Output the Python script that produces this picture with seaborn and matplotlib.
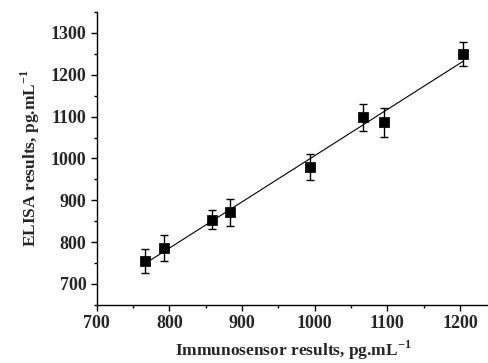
import matplotlib
matplotlib.use("Agg")
import matplotlib.pyplot as plt
from matplotlib.ticker import MultipleLocator
import numpy as np
import pandas as pd
import seaborn as sns

# values
immunosensor = [767, 793, 859, 883, 994, 1067, 1095, 1204]
elisa = [755, 786, 854, 871, 980, 1098, 1086, 1250]
elisa_err = [29, 32, 23, 33, 31, 33, 34, 29]

df = pd.DataFrame({"immuno": immunosensor, "elisa": elisa, "err": elisa_err})

sns.set_style("ticks")
plt.rcParams["font.family"] = ["Liberation Serif", "DejaVu Serif"]
plt.rcParams["font.weight"] = "bold"
plt.rcParams["mathtext.fontset"] = "custom"
plt.rcParams["mathtext.rm"] = "Liberation Serif:bold"
plt.rcParams["mathtext.bf"] = "Liberation Serif:bold"

fig = plt.figure(figsize=(4.89, 3.63), dpi=100)
ax = fig.add_axes([0.198, 0.160, 0.802, 0.807])

ax.errorbar(df["immuno"], df["elisa"], yerr=df["err"], fmt="none",
            ecolor="black", elinewidth=1.0, capsize=3, capthick=1.0, zorder=2)
sns.regplot(data=df, x="immuno", y="elisa", scatter=False, ci=None, ax=ax,
            line_kws={"color": "black", "lw": 0.8})
sns.scatterplot(data=df, x="immuno", y="elisa", marker="s", s=45,
                color="black", edgecolor="black", ax=ax, zorder=3)

ax.set_xlim(700, 1240)
ax.set_ylim(650, 1350)
ax.xaxis.set_major_locator(MultipleLocator(100))
ax.xaxis.set_minor_locator(MultipleLocator(50))
ax.yaxis.set_major_locator(MultipleLocator(100))
ax.yaxis.set_minor_locator(MultipleLocator(50))
ax.set_yticks(np.arange(700, 1301, 100))
ax.tick_params(which="major", length=4, width=1, labelsize=13, color="black")
ax.tick_params(which="minor", length=2.5, width=1, color="black")
for lab in ax.get_xticklabels() + ax.get_yticklabels():
    lab.set_fontweight("bold")

sns.despine(ax=ax)
for sp in ("left", "bottom"):
    ax.spines[sp].set_linewidth(1.0)
    ax.spines[sp].set_color("black")

ax.set_xlabel(r"Immunosensor results, pg.mL$^{\mathbf{-1}}$", fontsize=12.5,
              fontweight="bold", labelpad=4.5)
ax.set_ylabel(r"ELISA results, pg.mL$^{\mathbf{-1}}$", fontsize=12.5,
              fontweight="bold", labelpad=6)

fig.savefig("out.png", dpi=100)
